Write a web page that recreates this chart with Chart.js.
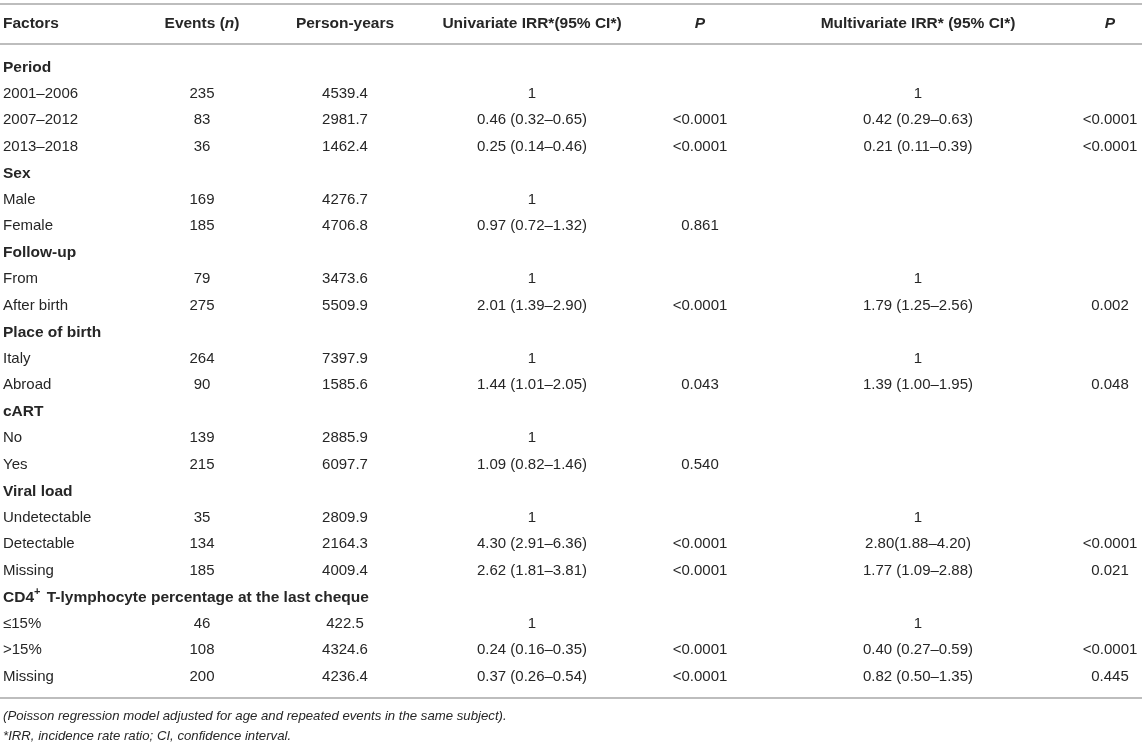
<!DOCTYPE html>
<html>
<head>
<meta charset="utf-8">
<script src="https://cdn.jsdelivr.net/npm/chart.js@4/dist/chart.umd.min.js"></script>
<style>
    html, body { margin: 0; padding: 0; background: #fff; }
    #wrap { width: 1146px; height: 745px; position: relative; }
</style>
</head>
<body>
<div id="wrap"><canvas id="irrTable"></canvas></div>
<script>
// --- table content ---
const headers = ['Factors', 'Events (_n_)', 'Person-years', 'Univariate IRR*(95% CI*)', '_P_', 'Multivariate IRR* (95% CI*)', '_P_'];

const factors = [
    'Period', '2001–2006', '2007–2012', '2013–2018',
    'Sex', 'Male', 'Female',
    'Follow-up', 'From', 'After birth',
    'Place of birth', 'Italy', 'Abroad',
    'cART', 'No', 'Yes',
    'Viral load', 'Undetectable', 'Detectable', 'Missing',
    'CD4^+^ T-lymphocyte percentage at the last cheque', '≤15%', '>15%', 'Missing',
];

const events = [null, 235, 83, 36, null, 169, 185, null, 79, 275, null, 264, 90, null, 139, 215, null, 35, 134, 185, null, 46, 108, 200];

const personYears = [null, 4539.4, 2981.7, 1462.4, null, 4276.7, 4706.8, null, 3473.6, 5509.9, null, 7397.9, 1585.6, null, 2885.9, 6097.7, null, 2809.9, 2164.3, 4009.4, null, 422.5, 4324.6, 4236.4];

const univariateIrr = [null, '1', '0.46 (0.32–0.65)', '0.25 (0.14–0.46)', null, '1', '0.97 (0.72–1.32)', null, '1', '2.01 (1.39–2.90)', null, '1', '1.44 (1.01–2.05)', null, '1', '1.09 (0.82–1.46)', null, '1', '4.30 (2.91–6.36)', '2.62 (1.81–3.81)', null, '1', '0.24 (0.16–0.35)', '0.37 (0.26–0.54)'];

const univariateP = [null, '', '<0.0001', '<0.0001', null, '', '0.861', null, '', '<0.0001', null, '', '0.043', null, '', '0.540', null, '', '<0.0001', '<0.0001', null, '', '<0.0001', '<0.0001'];

const multivariateIrr = [null, '1', '0.42 (0.29–0.63)', '0.21 (0.11–0.39)', null, '', '', null, '1', '1.79 (1.25–2.56)', null, '1', '1.39 (1.00–1.95)', null, '', '', null, '1', '2.80(1.88–4.20)', '1.77 (1.09–2.88)', null, '1', '0.40 (0.27–0.59)', '0.82 (0.50–1.35)'];

const multivariateP = [null, '', '<0.0001', '<0.0001', null, '', '', null, '', '0.002', null, '', '0.048', null, '', '', null, '', '<0.0001', '0.021', null, '', '<0.0001', '0.445'];

const footnotes = [
    '(Poisson regression model adjusted for age and repeated events in the same subject).',
    '*IRR, incidence rate ratio; CI, confidence interval.',
];

// --- layout ---
const FAMILY = '"Liberation Sans", Arial, Helvetica, sans-serif';
const TEXT = '#262626';
const RULE = '#bdbdbd';
const colX = [3, 202, 345, 532, 700, 918, 1110];
const TABLE_RIGHT = 1142;
const BODY_SIZE = 15;
const BOLD_SIZE = 15.5;
const NOTE_SIZE = 13.2;

const isGroup = (i) => events[i] === null;

// draws a string that may hold _italic_ and ^superscript^ runs
function drawRuns(ctx, text, x, y, align, size, weight, italic) {
    const runs = text.split(/(_[^_]+_|\^[^^]+\^)/).filter(Boolean).map((s) => {
        if (s[0] === '_') return { t: s.slice(1, -1), it: true, sup: false };
        if (s[0] === '^') return { t: s.slice(1, -1), it: italic, sup: true };
        return { t: s, it: italic, sup: false };
    });
    const fontFor = (r) => `${r.it ? 'italic ' : ''}${weight} ${r.sup ? Math.round(size * 0.68) : size}px ${FAMILY}`;
    let total = 0;
    runs.forEach((r) => {
        ctx.font = fontFor(r);
        r.w = ctx.measureText(r.t).width;
        total += r.w;
    });
    let cx = align === 'center' ? x - total / 2 : x;
    ctx.textAlign = 'left';
    ctx.textBaseline = 'middle';
    runs.forEach((r) => {
        ctx.font = fontFor(r);
        ctx.fillText(r.t, cx, r.sup ? y - size * 0.33 : y);
        cx += r.w + (r.sup ? 2 : 0);
    });
}

const tablePlugin = {
    id: 'tableText',
    afterDatasetsDraw(chart) {
        const { ctx, chartArea, scales: { x } } = chart;
        ctx.save();
        ctx.fillStyle = TEXT;

        ctx.strokeStyle = RULE;
        ctx.lineWidth = 2;
        [chartArea.top - 50, chartArea.top - 10, chartArea.bottom + 8].forEach((yy) => {
            ctx.beginPath();
            ctx.moveTo(x.getPixelForValue(0), yy);
            ctx.lineTo(x.getPixelForValue(TABLE_RIGHT), yy);
            ctx.stroke();
        });

        headers.forEach((h, c) => {
            drawRuns(ctx, h, x.getPixelForValue(colX[c]), chartArea.top - 30, c === 0 ? 'left' : 'center', BOLD_SIZE, 'bold', false);
        });

        chart.data.datasets.forEach((ds, di) => {
            chart.getDatasetMeta(di).data.forEach((pt, i) => {
                const txt = ds.cells[i];
                if (txt === null || txt === '') return;
                const bold = di === 0 && isGroup(i);
                drawRuns(ctx, String(txt), pt.x, pt.y, di === 0 ? 'left' : 'center',
                    bold ? BOLD_SIZE : BODY_SIZE, bold ? 'bold' : 'normal', false);
            });
        });

        footnotes.forEach((n, k) => {
            drawRuns(ctx, n, x.getPixelForValue(colX[0]), chartArea.bottom + 26 + 20 * k, 'left', NOTE_SIZE, 'normal', true);
        });
        ctx.restore();
    },
};

function initTable() {
    const columns = [
        factors,
        events,
        personYears.map((v) => (v === null ? null : v.toFixed(1))),
        univariateIrr,
        univariateP,
        multivariateIrr,
        multivariateP,
    ];

    new Chart(document.getElementById('irrTable'), {
        type: 'scatter',
        data: {
            datasets: columns.map((cells, c) => ({
                label: headers[c],
                cells,
                data: cells.map((_, i) => ({ x: colX[c], y: i })),
                pointRadius: 0,
                pointHoverRadius: 0,
            })),
        },
        options: {
            responsive: true,
            maintainAspectRatio: false,
            animation: false,
            events: [],
            layout: { padding: { top: 54, bottom: 55, left: 0, right: 0 } },
            plugins: { legend: { display: false }, tooltip: { enabled: false } },
            scales: {
                x: { type: 'linear', min: 0, max: 1146, display: false },
                y: { type: 'linear', reverse: true, min: -0.5, max: factors.length - 0.5, display: false },
            },
        },
        plugins: [tablePlugin],
    });
}

if (document.readyState === 'loading') {
    document.addEventListener('DOMContentLoaded', initTable);
} else {
    initTable();
}
</script>
</body>
</html>
